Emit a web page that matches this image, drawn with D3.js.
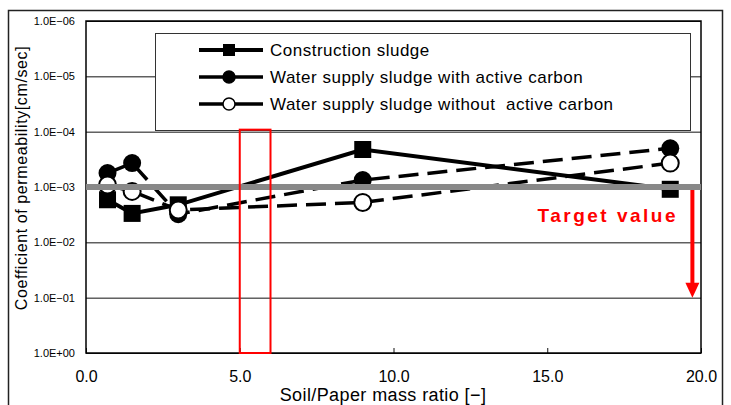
<!DOCTYPE html>
<html>
<head>
<meta charset="utf-8">
<script src="https://d3js.org/d3.v7.min.js"></script>
<style>
  body { margin: 0; background: #fff; }
  svg { font-family: "Liberation Sans", Arial, sans-serif; }
</style>
</head>
<body>
<svg id="chart" width="731" height="405"></svg>
<script>
  // data
  var ratio = [0.7, 1.5, 3.0, 9.0, 19.0];
  var construction = [1.7e-3, 3.0e-3, 2.1e-3, 2.1e-4, 1.1e-3];
  var withCarbon = [5.6e-4, 3.7e-4, 3.1e-3, 7.5e-4, 2.0e-4];
  var withoutCarbon = [9.2e-4, 1.2e-3, 2.6e-3, 1.9e-3, 3.7e-4];
  var seriesNames = ["Construction sludge", "Water supply sludge with active carbon", "Water supply sludge without  active carbon"];
  var xTicks = [0, 5, 10, 15, 20];
  var yTicks = [1e-6, 1e-5, 1e-4, 1e-3, 1e-2, 1e-1, 1];
  var targetValue = 1e-3;
  var arrowRatio = 19.72, arrowEnd = 1e-1;
  var boxRatio = [5, 6], boxPerm = [1e-4, 1];

  var margin = {top: 21, right: 30, bottom: 52, left: 86},
      width = 731 - margin.left - margin.right,
      height = 405 - margin.top - margin.bottom;

  var x = d3.scaleLinear().domain([0, 20]).range([0, width]);
  var y = d3.scaleLog().domain([1e-6, 1]).range([0, height]);

  var svg = d3.select("#chart");

  // outer frame
  svg.append("rect")
    .attr("x", 8.5).attr("y", 10.5)
    .attr("width", 714).attr("height", 420)
    .attr("fill", "none").attr("stroke", "#222").attr("stroke-width", 1.5);

  var g = svg.append("g")
    .attr("transform", "translate(" + margin.left + "," + margin.top + ")");

  function sci(v) {
    var e = Math.round(Math.log10(v));
    var s = e < 0 ? "\u2212" : "+";
    var a = Math.abs(e);
    return "1.0E" + s + (a < 10 ? "0" + a : a);
  }

  // y axis + gridlines
  var yAxis = g.append("g")
    .call(d3.axisLeft(y).tickValues(yTicks).tickFormat(sci)
      .tickSizeInner(-width).tickSizeOuter(0).tickPadding(11));
  yAxis.select(".domain").remove();
  yAxis.selectAll(".tick line").attr("stroke", "#111").attr("stroke-width", 1);
  yAxis.selectAll(".tick text")
    .style("font-size", "11px").style("font-family", "Liberation Sans, Arial")
    .attr("fill", "#000");

  // x axis
  var xAxis = g.append("g")
    .attr("transform", "translate(0," + height + ")")
    .call(d3.axisBottom(x).tickValues(xTicks).tickFormat(d3.format(".1f"))
      .tickSizeInner(-5).tickSizeOuter(0).tickPadding(18));
  xAxis.select(".domain").remove();
  xAxis.selectAll(".tick line").attr("stroke", "#111");
  xAxis.selectAll(".tick text")
    .style("font-size", "16px").style("font-family", "Liberation Sans, Arial")
    .attr("fill", "#000");

  // plot border
  g.append("rect")
    .attr("width", width).attr("height", height)
    .attr("fill", "none").attr("stroke", "#000").attr("stroke-width", 1.5);

  // legend
  var legend = g.append("g");
  legend.append("rect")
    .attr("x", 155 - margin.left + 0.5).attr("y", 33 - margin.top + 0.5)
    .attr("width", 535).attr("height", 97)
    .attr("fill", "#fff").attr("stroke", "#333").attr("stroke-width", 1);

  var markers = ["square", "filled", "open"];
  var legY = [50, 77, 104];
  seriesNames.forEach(function(name, i) {
    var ly = legY[i] - margin.top;
    var lx = 199 - margin.left;
    legend.append("line")
      .attr("x1", lx).attr("x2", lx + 64).attr("y1", ly).attr("y2", ly)
      .attr("stroke", "#000").attr("stroke-width", i == 0 ? 4 : 3.5);
    if (markers[i] == "square") {
      legend.append("rect").attr("x", lx + 24).attr("y", ly - 6)
        .attr("width", 12).attr("height", 12).attr("fill", "#000");
    } else {
      legend.append("circle").attr("cx", lx + 30).attr("cy", ly).attr("r", 6)
        .attr("fill", markers[i] == "filled" ? "#000" : "#fff")
        .attr("stroke", "#000").attr("stroke-width", 1.5);
    }
    legend.append("text")
      .attr("x", 270 - margin.left).attr("y", ly + 6)
      .style("font-size", "17px")
      .style("letter-spacing", "0.5px")
      .style("white-space", "pre")
      .text(name);
  });

  // lines
  var line = d3.line()
    .x(function(d) { return x(d[0]); })
    .y(function(d) { return y(d[1]); });

  function pts(vals) { return ratio.map(function(r, i) { return [r, vals[i]]; }); }

  g.append("path").datum(pts(construction))
    .attr("fill", "none").attr("stroke", "#000").attr("stroke-width", 4)
    .attr("d", line);
  g.append("path").datum(pts(withCarbon))
    .attr("fill", "none").attr("stroke", "#000").attr("stroke-width", 3.5)
    .attr("stroke-dasharray", "20,9").attr("d", line);
  g.append("path").datum(pts(withoutCarbon))
    .attr("fill", "none").attr("stroke", "#000").attr("stroke-width", 3.5)
    .attr("stroke-dasharray", "20,9").attr("d", line);

  // markers
  g.selectAll(".sq").data(pts(construction)).enter()
    .append("rect")
      .attr("x", function(d) { return x(d[0]) - 8.5; })
      .attr("y", function(d) { return y(d[1]) - 8.5; })
      .attr("width", 17).attr("height", 17)
      .attr("fill", "#000");
  g.selectAll(".fc").data(pts(withCarbon)).enter()
    .append("circle")
      .attr("cx", function(d) { return x(d[0]); })
      .attr("cy", function(d) { return y(d[1]); })
      .attr("r", 9).attr("fill", "#000");
  g.selectAll(".oc").data(pts(withoutCarbon)).enter()
    .append("circle")
      .attr("cx", function(d) { return x(d[0]); })
      .attr("cy", function(d) { return y(d[1]); })
      .attr("r", 8.5).attr("fill", "#fff")
      .attr("stroke", "#000").attr("stroke-width", 2);

  // target value line
  g.append("line")
    .attr("x1", 0).attr("x2", width)
    .attr("y1", y(targetValue)).attr("y2", y(targetValue))
    .attr("stroke", "#888").attr("stroke-width", 6);

  // red highlight box
  g.append("rect")
    .attr("x", x(boxRatio[0])).attr("y", y(boxPerm[0]) - 2)
    .attr("width", x(boxRatio[1]) - x(boxRatio[0]))
    .attr("height", y(boxPerm[1]) - y(boxPerm[0]) + 2)
    .attr("fill", "none").attr("stroke", "#ff0000").attr("stroke-width", 2);

  // arrow
  var ax = x(arrowRatio), ay0 = y(targetValue) + 3, ay1 = y(arrowEnd);
  g.append("line")
    .attr("x1", ax).attr("x2", ax).attr("y1", ay0).attr("y2", ay1 - 12)
    .attr("stroke", "#ff0000").attr("stroke-width", 4);
  g.append("path")
    .attr("d", "M" + (ax - 7) + "," + (ay1 - 15) + "L" + (ax + 7) + "," + (ay1 - 15) + "L" + ax + "," + ay1 + "Z")
    .attr("fill", "#ff0000");

  g.append("text")
    .attr("x", 678 - margin.left).attr("y", 222 - margin.top)
    .attr("text-anchor", "end")
    .style("font-size", "19px").style("font-weight", "bold")
    .style("letter-spacing", "2.5px")
    .attr("fill", "#ff0000")
    .text("Target value");

  // axis titles
  svg.append("text")
    .attr("transform", "translate(27,178) rotate(-90)")
    .attr("text-anchor", "middle")
    .style("font-size", "16px")
    .style("letter-spacing", "0.6px")
    .text("Coefficient of permeability[cm/sec]");

  svg.append("text")
    .attr("x", 383).attr("y", 401)
    .attr("text-anchor", "middle")
    .style("font-size", "18px")
    .style("letter-spacing", "0.4px")
    .text("Soil/Paper mass ratio [\u2212]");
</script>
</body>
</html>
